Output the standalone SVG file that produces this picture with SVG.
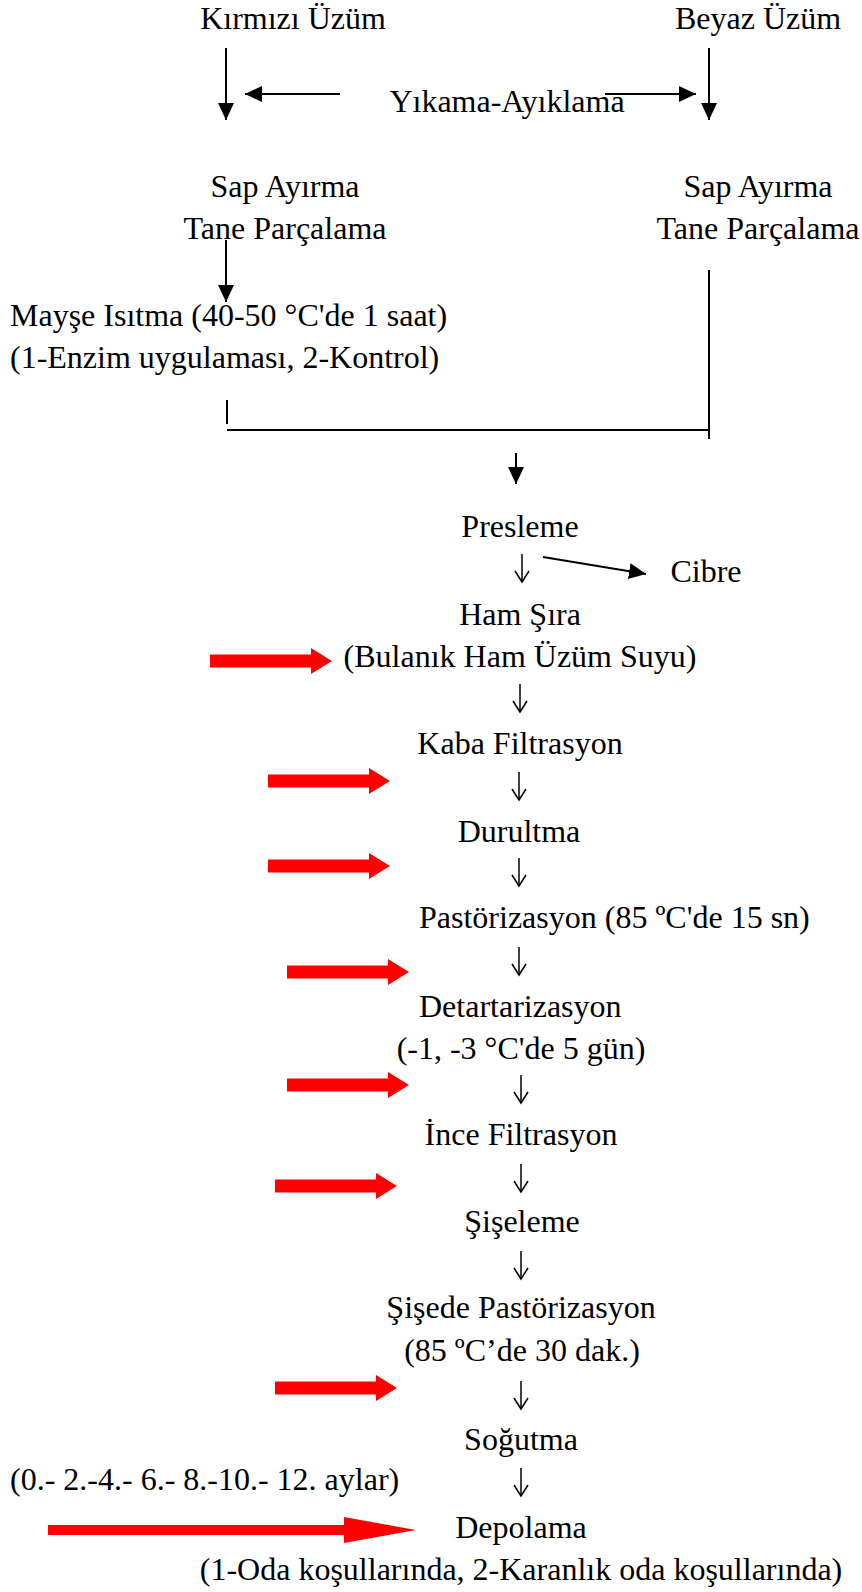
<svg xmlns="http://www.w3.org/2000/svg" xmlns:xlink="http://www.w3.org/1999/xlink" width="862" height="1592" viewBox="0 0 862 1592">
<style>
text{font-family:"Liberation Serif","Times New Roman",serif;font-size:32px;fill:#000}
.c{text-anchor:middle}
.ln{stroke:#000;stroke-width:2;fill:none}
.thin{stroke:#000;stroke-width:1.5;fill:none}
.red{fill:#FF0000}
</style>
<defs>
<marker id="ah" markerUnits="userSpaceOnUse" markerWidth="18" markerHeight="16" refX="17" refY="8" orient="auto">
<path d="M0,0 L17,8 L0,16 Z" fill="#000"/>
</marker>
<g id="down">
<line x1="0" y1="0" x2="0" y2="28" class="thin"/>
<polyline points="-7,17 0,28 7,17" class="thin"/>
</g>
<path id="blk" d="M-122,-6.5 H-21 V-13 L0,0 L-21,13 V6.5 H-122 Z"/>
</defs>
<g id="connectors">
<line x1="226" y1="48" x2="226" y2="120" class="ln" marker-end="url(#ah)"/>
<line x1="340" y1="94" x2="245" y2="94" class="ln" marker-end="url(#ah)"/>
<line x1="605" y1="94" x2="696" y2="94" class="ln" marker-end="url(#ah)"/>
<line x1="709" y1="48" x2="709" y2="120" class="ln" marker-end="url(#ah)"/>
<line x1="226" y1="240" x2="226" y2="302" class="ln" marker-end="url(#ah)"/>
<line x1="709" y1="270" x2="709" y2="439" class="ln"/>
<line x1="227" y1="400" x2="227" y2="424" class="ln"/>
<line x1="227" y1="430" x2="709" y2="430" class="ln"/>
<line x1="516" y1="453" x2="516" y2="484" class="ln" marker-end="url(#ah)"/>
<line x1="543" y1="557" x2="646" y2="574" class="ln" marker-end="url(#ah)"/>
<use xlink:href="#down" x="522" y="554"/>
<use xlink:href="#down" x="520" y="684"/>
<use xlink:href="#down" x="519" y="772"/>
<use xlink:href="#down" x="519" y="858"/>
<use xlink:href="#down" x="519" y="947"/>
<use xlink:href="#down" x="521" y="1075"/>
<use xlink:href="#down" x="521" y="1164"/>
<use xlink:href="#down" x="521" y="1251"/>
<use xlink:href="#down" x="521" y="1381"/>
<use xlink:href="#down" x="521" y="1468"/>
<g class="red">
<use xlink:href="#blk" x="332" y="661"/>
<use xlink:href="#blk" x="390" y="781"/>
<use xlink:href="#blk" x="390" y="866"/>
<use xlink:href="#blk" x="409" y="972"/>
<use xlink:href="#blk" x="409" y="1085"/>
<use xlink:href="#blk" x="397" y="1186"/>
<use xlink:href="#blk" x="397" y="1388"/>
<path d="M48,1525 H344 V1517 L416,1530 L344,1543 V1535 H48 Z"/>
</g>
</g>
<g id="kirmizi"><text class="c" x="293" y="29">Kırmızı Üzüm</text></g>
<g id="beyaz"><text class="c" x="758" y="29">Beyaz Üzüm</text></g>
<g id="yikama"><text class="c" x="507" y="112">Yıkama-Ayıklama</text></g>
<g id="sap-left"><text class="c" x="285" y="197">Sap Ayırma</text><text class="c" x="285" y="239">Tane Parçalama</text></g>
<g id="sap-right"><text class="c" x="758" y="197">Sap Ayırma</text><text class="c" x="758" y="239">Tane Parçalama</text></g>
<g id="mayse"><text x="10" y="326">Mayşe Isıtma (40-50 °C'de 1 saat)</text><text x="10" y="368">(1-Enzim uygulaması, 2-Kontrol)</text></g>
<g id="presleme"><text class="c" x="520" y="537">Presleme</text></g>
<g id="cibre"><text class="c" x="706" y="582">Cibre</text></g>
<g id="hamsira"><text class="c" x="520" y="625">Ham Şıra</text><text class="c" x="520" y="667">(Bulanık Ham Üzüm Suyu)</text></g>
<g id="kaba"><text class="c" x="520" y="754">Kaba Filtrasyon</text></g>
<g id="durultma"><text class="c" x="519" y="842">Durultma</text></g>
<g id="pastorizasyon"><text x="419" y="928">Pastörizasyon (85 ºC'de 15 sn)</text></g>
<g id="detartarizasyon"><text x="419" y="1017">Detartarizasyon</text><text class="c" x="521" y="1059">(-1, -3 °C'de 5 gün)</text></g>
<g id="ince"><text class="c" x="521" y="1145">İnce Filtrasyon</text></g>
<g id="siseleme"><text class="c" x="522" y="1232">Şişeleme</text></g>
<g id="sisede"><text class="c" x="521" y="1318">Şişede Pastörizasyon</text><text class="c" x="522" y="1361">(85 ºC’de 30 dak.)</text></g>
<g id="sogutma"><text class="c" x="521" y="1450">Soğutma</text></g>
<g id="aylar"><text x="10" y="1490">(0.- 2.-4.- 6.- 8.-10.- 12. aylar)</text></g>
<g id="depolama"><text class="c" x="521" y="1538">Depolama</text><text class="c" x="521" y="1580">(1-Oda koşullarında, 2-Karanlık oda koşullarında)</text></g>
</svg>
